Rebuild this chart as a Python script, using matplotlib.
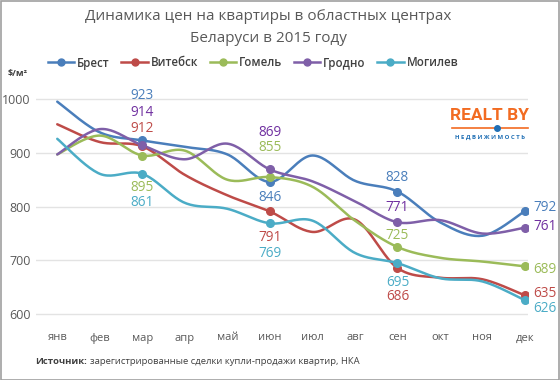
#
# python3 plot.py
#
import matplotlib.pyplot as plt
from matplotlib.lines import Line2D
from matplotlib.patches import Rectangle
import numpy as np

plt.rcParams['font.family'] = ['Open Sans', 'DejaVu Sans']

###########
months = ['янв', 'фев', 'мар', 'апр', 'май', 'июн', 'июл', 'авг', 'сен', 'окт', 'ноя', 'дек']
cities = ['Брест', 'Витебск', 'Гомель', 'Гродно', 'Могилев']
brest   = [995, 938, 923, 911, 897, 846, 895, 848, 828, 771, 746, 792]
vitebsk = [953, 920, 912, 859, 821, 791, 753, 776, 686, 668, 665, 635]
gomel   = [897, 932, 895, 904, 850, 855, 837, 774, 725, 705, 698, 689]
grodno  = [897, 944, 914, 888, 917, 869, 847, 810, 771, 775, 750, 761]
mogilev = [926, 861, 861, 807, 796, 769, 774, 714, 695, 667, 661, 626]
yticks = [600, 700, 800, 900, 1000]
marked = [2, 5, 8, 11]   # мар, июн, сен, дек

series = [brest, vitebsk, gomel, grodno, mogilev]
colors = ['#4A7EBB', '#BE4B48', '#9BBB59', '#7F5FA8', '#4BACC6']
lblcol = ['#4A7EBB', '#BE4B48', '#9BBB59', '#7030A0', '#4BACC6']

# label offsets in pixels (dx, dy) for each city at мар, июн, сен, дек
offs = {
    0: [(0, 45), (0, -16), (0, 14), (8, 3)],
    1: [(0, 18), (0, -26), (0, -28), (8, 2)],
    2: [(0, -32), (0, 30), (0, 12), (8, -3.5)],
    3: [(0, 32.5), (0, 37), (0, 15), (8, 1)],
    4: [(0, -29), (0, -30), (0, -19), (8, -8)],
}


def smooth(y, n=24):
    # Excel-like smoothed line (Catmull-Rom through the points)
    x = np.arange(len(y), dtype=float)
    p = np.column_stack([x, np.asarray(y, dtype=float)])
    p = np.vstack([p[0], p, p[-1]])
    out = []
    t = np.linspace(0, 1, n)[:, None]
    for i in range(1, len(p) - 2):
        p0, p1, p2, p3 = p[i - 1], p[i], p[i + 1], p[i + 2]
        c1 = p1 + (p2 - p0) / 6
        c2 = p2 - (p3 - p1) / 6
        seg = ((1 - t) ** 3) * p1 + 3 * ((1 - t) ** 2) * t * c1 + 3 * (1 - t) * t ** 2 * c2 + t ** 3 * p2
        out.append(seg if i == 1 else seg[1:])
    out = np.vstack(out)
    return out[:, 0], out[:, 1]


fig = plt.figure(figsize=(5.6, 3.8), dpi=100)
ax = fig.add_axes([36 / 560, 60 / 380, 492 / 560, 225 / 380])

for k, ys in enumerate(series):
    sx, sy = smooth(ys)
    ax.plot(sx, sy, color=colors[k], lw=1.8, solid_capstyle='round', zorder=3)
    ax.plot(marked, [ys[i] for i in marked], 'o', color=colors[k], ms=5.5, zorder=4)
    for j, i in enumerate(marked):
        dx, dy = offs[k][j]
        ax.annotate(str(ys[i]), (i, ys[i]), xytext=(dx * 0.72, dy * 0.72),
                    textcoords='offset points', ha='left' if dx else 'center',
                    va='center', fontsize=9.8, color=lblcol[k],
                    annotation_clip=False, zorder=5)

ax.set_xlim(-0.5, 11.07)
ax.set_ylim(589.4, 1007.4)
ax.set_yticks(yticks)
ax.set_yticklabels([str(v) for v in yticks], fontsize=9, color='#595959')
ax.set_xticks(range(12))
ax.set_xticklabels(months, fontsize=8, color='#595959')
ax.tick_params(axis='x', length=0, pad=9)
ax.tick_params(axis='y', length=0, pad=4)
ax.grid(axis='y', color='#E3E3E3', lw=1)
ax.set_axisbelow(True)
for s in ax.spines.values():
    s.set_visible(False)

# title
fig.text(268 / 560, 1 - 17 / 380, 'Динамика цен на квартиры в областных центрах',
         ha='center', va='center', fontsize=11, color='#595959')
fig.text(268 / 560, 1 - 39 / 380, 'Беларуси в 2015 году',
         ha='center', va='center', fontsize=11, color='#595959')

# legend
handles = [Line2D([0], [0], color=c, lw=1.8, marker='o', ms=5) for c in colors]
leg = fig.legend(handles, cities, loc='center', bbox_to_anchor=(253 / 560, 1 - 63 / 380),
                 ncol=5, frameon=False, handlelength=2.3, handletextpad=0.25,
                 columnspacing=1.0, prop={'size': 8.3, 'weight': 'semibold'})
for t in leg.get_texts():
    t.set_color('#404040')

fig.text(8 / 560, 1 - 73 / 380, '$/м²', fontsize=6.5, color='#404040',
         fontweight='bold', va='center')

# source
src = fig.text(35 / 560, 1 - 362 / 380, 'Источник:', fontsize=6.8, color='#404040',
               fontweight='bold', va='center')
fig.canvas.draw()
bb = src.get_window_extent()
fig.text(bb.x1 / 560 + 3 / 560, 1 - 362 / 380,
         'зарегистрированные сделки купли-продажи квартир, НКА',
         fontsize=6.8, color='#404040', va='center')

# logo
fig.text(490 / 560, 1 - 116 / 380, 'REALT BY', ha='center', va='center',
         fontsize=12.5, fontweight='bold', color='#F26B21', family='Roboto')
fig.add_artist(Line2D([452 / 560, 528 / 560], [1 - 128 / 380] * 2, color='#F26B21', lw=1.2))
fig.add_artist(Line2D([497 / 560], [1 - 128 / 380], marker='o', ms=4, color='#1F6FB5'))
fig.text(490 / 560, 1 - 137 / 380, 'Н Е Д В И Ж И М О С Т Ь', ha='center', va='center',
         fontsize=4.3, fontweight='bold', color='#1F6FB5')

# frame
fig.add_artist(Rectangle((0.001, 0.001), 0.997, 0.997, transform=fig.transFigure,
                         fill=False, ec='#A0A0A0', lw=1.2))

plt.savefig('out.png', dpi=100)
